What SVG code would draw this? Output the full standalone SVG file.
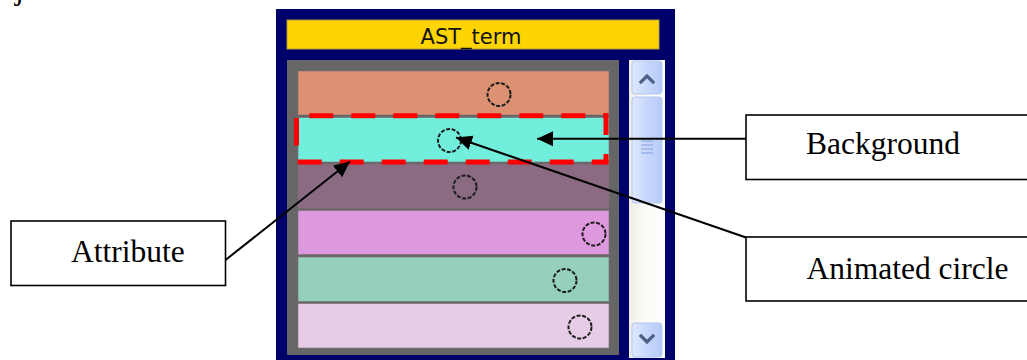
<svg xmlns="http://www.w3.org/2000/svg" width="1027" height="360" viewBox="0 0 1027 360">
  <style>
    .label { font-family: "Liberation Serif", "Times New Roman", serif; font-size: 31.5px; fill: #000; }
    .callout { fill: #fff; stroke: #000; stroke-width: 1.6; }
    .row { stroke: #7a6f78; stroke-opacity: 0.6; stroke-width: 1; }
    .dot { fill: none; stroke: #1c1c1c; stroke-width: 2; stroke-dasharray: 4 1.6; }
    .conn { fill: none; stroke: #000; stroke-width: 2; marker-end: url(#head); }
    .sel { fill: none; stroke: #ff0000; stroke-width: 5; }
    .btn { fill: url(#btnFill); stroke: #b3c6f0; stroke-width: 1; }
    .chev { fill: none; stroke: #4d6185; stroke-width: 3.2; stroke-linecap: square; }
  </style>
  <defs>
    <marker id="head" markerUnits="userSpaceOnUse" markerWidth="16" markerHeight="16" viewBox="0 0 16 16" refX="16" refY="8" orient="auto">
      <path d="M0,0.5 L16,8 L0,15.5 Z" fill="#000"/>
    </marker>
    <linearGradient id="btnFill" x1="0" y1="0" x2="1" y2="0">
      <stop offset="0" stop-color="#dfe8fe"/>
      <stop offset="0.5" stop-color="#c7d7fc"/>
      <stop offset="1" stop-color="#b6cbf8"/>
    </linearGradient>
    <linearGradient id="trackFill" x1="0" y1="0" x2="1" y2="0">
      <stop offset="0" stop-color="#eeede4"/>
      <stop offset="0.4" stop-color="#fbfaf6"/>
      <stop offset="1" stop-color="#ffffff"/>
    </linearGradient>
  </defs>

  <rect width="1027" height="360" fill="#fff"/>

  <!-- trailing words of the preceding sentence, cut by the top edge -->
  <text class="label" x="15" y="-1">ject.</text>

  <!-- list window -->
  <g id="window">
    <rect x="276" y="9" width="399" height="351" fill="#00006b"/>
    <rect x="287" y="20" width="372" height="29" fill="#fed503" stroke="#b39a3a" stroke-width="1"/>
    <text x="471" y="44" text-anchor="middle" font-family="DejaVu Sans, Verdana, sans-serif" font-size="21" fill="#111">AST_term</text>
    <rect x="287" y="60" width="332" height="295" fill="#666666"/>
  </g>

  <!-- list rows, each with its animated circle -->
  <g id="row1">
    <rect class="row" x="298" y="71" width="311" height="44" fill="#dc9173"/>
    <circle class="dot" cx="499" cy="94.5" r="11.5"/>
  </g>
  <g id="row2">
    <rect class="row" x="298" y="117.5" width="311" height="44.5" fill="#72efdc"/>
    <circle class="dot" cx="449.5" cy="140.5" r="11.5"/>
  </g>
  <g id="row3">
    <rect class="row" x="298" y="164" width="311" height="44.5" fill="#8b6b82"/>
    <circle class="dot" cx="465" cy="187" r="11.5"/>
  </g>
  <g id="row4">
    <rect class="row" x="298" y="210.5" width="311" height="44" fill="#de99de"/>
    <circle class="dot" cx="594" cy="234" r="11.5"/>
  </g>
  <g id="row5">
    <rect class="row" x="298" y="257" width="311" height="44.5" fill="#95d0bd"/>
    <circle class="dot" cx="565" cy="280.5" r="11.5"/>
  </g>
  <g id="row6">
    <rect class="row" x="298" y="303.5" width="311" height="44.5" fill="#e6cce6"/>
    <circle class="dot" cx="580" cy="327" r="11.5"/>
  </g>

  <!-- selection outline around the second row -->
  <g id="selection">
    <path class="sel" d="M296.5,115.8 H606" stroke-dasharray="24 18" stroke-dashoffset="29.2"/>
    <path class="sel" d="M606,113 V162" stroke-dasharray="22 19"/>
    <path class="sel" d="M608.5,162 H297.5" stroke-dasharray="24 18" stroke-dashoffset="7.2"/>
    <path class="sel" d="M296.5,118 V145.5"/>
  </g>

  <!-- vertical scrollbar -->
  <g id="scrollbar">
    <rect x="629" y="60" width="36" height="298" fill="url(#trackFill)"/>
    <rect class="btn" x="632" y="61" width="30" height="33" rx="3"/>
    <path class="chev" d="M641,82 L647,76 L653,82"/>
    <rect class="btn" x="632" y="97" width="30" height="106" rx="3"/>
    <g stroke="#8ea8e4" stroke-width="1.2">
      <line x1="641" y1="141" x2="653" y2="141"/>
      <line x1="641" y1="145" x2="653" y2="145"/>
      <line x1="641" y1="149" x2="653" y2="149"/>
      <line x1="641" y1="153" x2="653" y2="153"/>
    </g>
    <rect class="btn" x="632" y="323" width="30" height="34" rx="3"/>
    <path class="chev" d="M641,336 L647,342 L653,336"/>
  </g>

  <!-- callout boxes -->
  <g id="background">
    <rect class="callout" x="746" y="115" width="290" height="64.5"/>
    <text class="label" x="806" y="154">Background</text>
  </g>
  <g id="animated-circle">
    <rect class="callout" x="746" y="237" width="290" height="64"/>
    <text class="label" x="806.5" y="278.5">Animated circle</text>
  </g>
  <g id="attribute">
    <rect class="callout" x="11" y="221" width="214.5" height="64.5"/>
    <text class="label" x="71" y="261.5">Attribute</text>
  </g>

  <!-- connectors -->
  <g id="connectors">
    <line class="conn" x1="746" y1="138.7" x2="537" y2="138.7"/>
    <line class="conn" x1="746" y1="237.5" x2="456" y2="137.5"/>
    <line class="conn" x1="225.5" y1="260" x2="350" y2="161.5"/>
  </g>
</svg>
